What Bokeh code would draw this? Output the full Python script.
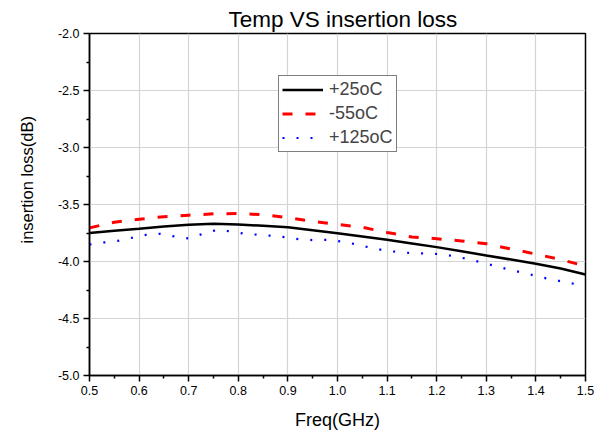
from bokeh.plotting import figure
from bokeh.models import Range1d, FixedTicker, NumeralTickFormatter, Legend, LegendItem, Title
from bokeh.embed import file_html
from bokeh.resources import INLINE

# ---- data ----
freq = [0.5, 0.55, 0.6, 0.65, 0.7, 0.75, 0.8, 0.85, 0.9, 0.95, 1.0,
        1.05, 1.1, 1.15, 1.2, 1.25, 1.3, 1.35, 1.4, 1.45, 1.5]
loss_p25 = [-3.75, -3.73, -3.713, -3.693, -3.677, -3.668, -3.675, -3.687, -3.70, -3.725, -3.752,
            -3.78, -3.81, -3.842, -3.874, -3.91, -3.947, -3.983, -4.02, -4.062, -4.114]
loss_m55 = [-3.705, -3.655, -3.63, -3.607, -3.594, -3.582, -3.579, -3.59, -3.615, -3.648, -3.675,
            -3.70, -3.745, -3.785, -3.80, -3.82, -3.845, -3.89, -3.935, -3.983, -4.04]
freq_p125 = [0.5, 0.529, 0.557, 0.586, 0.614, 0.643, 0.672, 0.700, 0.729, 0.757, 0.786, 0.813,
             0.841, 0.870, 0.898, 0.926, 0.955, 0.983, 1.012, 1.04, 1.067, 1.096, 1.124, 1.153,
             1.181, 1.21, 1.238, 1.266, 1.294, 1.322, 1.35, 1.379, 1.407, 1.436, 1.464, 1.5]
loss_p125 = [-3.851, -3.833, -3.819, -3.792, -3.766, -3.757, -3.781, -3.798, -3.757, -3.722, -3.737, -3.757,
             -3.766, -3.775, -3.789, -3.807, -3.813, -3.81, -3.827, -3.851, -3.88, -3.904, -3.918, -3.927,
             -3.93, -3.936, -3.956, -3.982, -4.012, -4.044, -4.076, -4.102, -4.135, -4.161, -4.185, -4.215]
x_ticks = [0.5, 0.6, 0.7, 0.8, 0.9, 1.0, 1.1, 1.2, 1.3, 1.4, 1.5]
y_ticks = [-5.0, -4.5, -4.0, -3.5, -3.0, -2.5, -2.0]
labels = ["+25oC", "-55oC", "+125oC"]
title_text = "Temp VS insertion loss"
x_label = "Freq(GHz)"
y_label = "insertion loss(dB)"

FONT = "Liberation Sans"

p = figure(width=603, height=432, output_backend="svg", toolbar_location=None,
           x_range=Range1d(0.5, 1.5), y_range=Range1d(-5.0, -2.0),
           min_border_left=88, min_border_right=18, min_border_top=33, min_border_bottom=57,
           title=title_text)
p.title.text_font = FONT
p.title.text_font_size = "22.5px"
p.title.text_font_style = "normal"
p.title.text_color = "black"
p.title.align = "left"
p.title.offset = 139
p.title.standoff = 3

r1 = p.line(freq, loss_p25, line_color="black", line_width=2.5)
r2 = p.line(freq, loss_m55, line_color="#ff0000", line_width=3, line_dash="10 13")
r3 = p.line(freq_p125, loss_p125, line_color="#0000ff", line_width=2.2, line_dash="2 12")

for ax, ticks in ((p.xaxis[0], x_ticks), (p.yaxis[0], y_ticks)):
    step = ticks[1] - ticks[0]
    minors = [round(t + step / 2, 3) for t in ticks[:-1]]
    ax.ticker = FixedTicker(ticks=ticks, minor_ticks=minors)
    ax.formatter = NumeralTickFormatter(format="0.0")
    ax.axis_line_color = "black"
    ax.axis_line_width = 1.5
    ax.major_tick_line_color = "black"
    ax.major_tick_line_width = 1.5
    ax.minor_tick_line_color = "black"
    ax.minor_tick_line_width = 1.5
    ax.major_tick_out = 6
    ax.major_tick_in = 0
    ax.minor_tick_out = 3
    ax.minor_tick_in = 0
    ax.major_label_text_font = FONT
    ax.major_label_text_font_size = "12.5px"
    ax.major_label_text_color = "black"
    ax.axis_label_text_font = FONT
    ax.axis_label_text_font_style = "normal"
    ax.axis_label_text_color = "black"

p.xaxis.axis_label = x_label
p.xaxis.axis_label_text_font_size = "18px"
p.xaxis.major_label_standoff = 4
p.yaxis.major_label_standoff = 4
p.xaxis.axis_label_standoff = 12

ytitle = Title(text=y_label, align="left", offset=132, text_font=FONT,
               text_font_size="16.5px", text_font_style="normal", text_color="black",
               vertical_align="top", standoff=34)
p.add_layout(ytitle, "left")

p.xgrid.ticker = FixedTicker(ticks=x_ticks)
p.ygrid.ticker = FixedTicker(ticks=y_ticks)
p.grid.grid_line_color = "#d4d4d4"
p.grid.grid_line_width = 1.2
p.outline_line_color = "black"
p.outline_line_width = 1.5
p.outline_line_alpha = 1.0

legend = Legend(items=[LegendItem(label=labels[0], renderers=[r1]),
                       LegendItem(label=labels[1], renderers=[r2]),
                       LegendItem(label=labels[2], renderers=[r3])],
                location=(189, 223))
legend.border_line_color = "black"
legend.border_line_width = 1
legend.label_text_font = FONT
legend.label_text_font_size = "18px"
legend.glyph_width = 41
legend.glyph_height = 21
legend.label_height = 21
legend.spacing = 3
legend.padding = 3
legend.margin = 0
legend.label_standoff = 6
p.add_layout(legend, "center")

open("out.html", "w").write(file_html(p, INLINE))
